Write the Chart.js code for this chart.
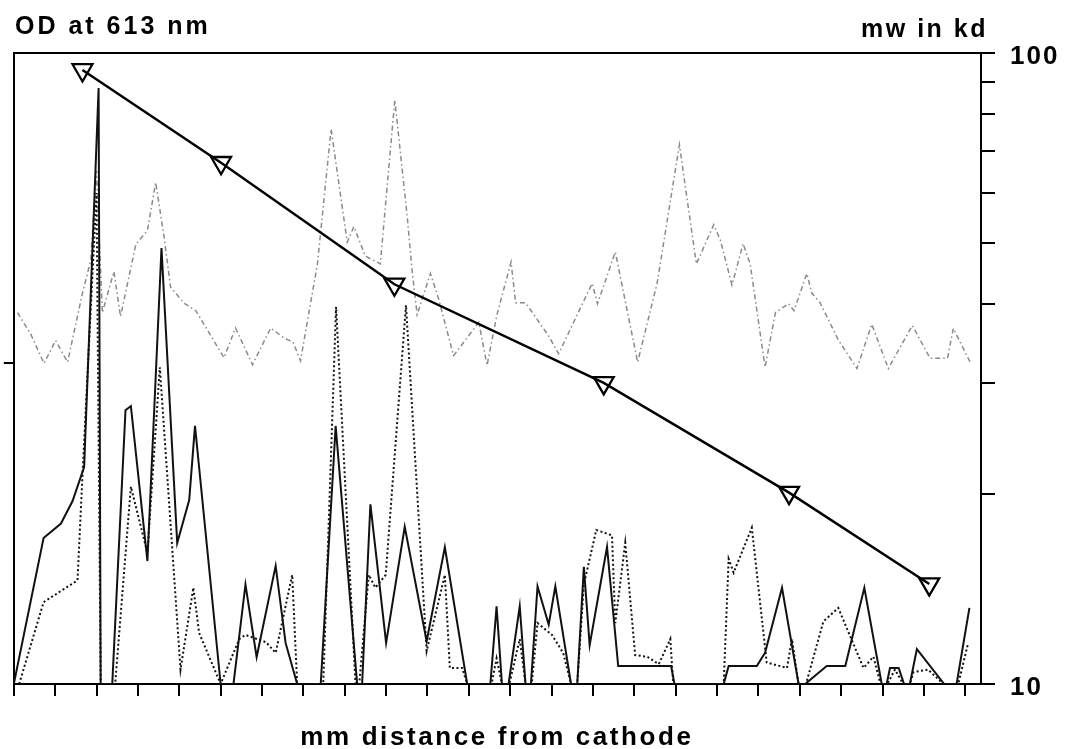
<!DOCTYPE html>
<html>
<head>
<meta charset="utf-8">
<script src="https://cdn.jsdelivr.net/npm/chart.js@4.4.1/dist/chart.umd.min.js"></script>
<style>
body { margin: 0; background: #fff; }
#wrap { width: 1066px; height: 749px; position: relative; }
</style>
</head>
<body>
<div id="wrap"><canvas id="odChart"></canvas></div>
<script>
// x is in tick steps along the gel (one tick mark = 1)
var xTicks = [0,1,2,3,4,5,6,7,8,9,10,11,12,13,14,15,16,17,18,19,20,21,22,23]
var mwTicks = [10,20,30,40,50,60,70,80,90,100]

// molecular weight standards (kd)
var mwX = [1.66, 5.01, 9.20, 14.26, 18.74, 22.13]
var mwKd = [94, 67, 43, 30, 20.1, 14.4]

// solid trace, OD at 613 nm
var solidX = [0,0.72,1.14,1.42,1.70,2.05,2.10,2.38,2.70,2.83,3.23,3.57,3.95,4.24,4.38,5.0,5.31,5.60,5.87,6.33,6.57,6.85,7.42,7.78,8.30,8.42,8.62,9.0,9.45,9.98,10.42,10.96,11.52,11.67,11.80,11.96,12.23,12.37,12.50,12.66,12.93,13.09,13.47,13.62,13.78,13.92,14.34,14.61,15.89,15.97,17.16,17.28,17.96,18.16,18.57,18.97,19.13,19.65,20.10,20.56,20.98,21.10,21.18,21.39,21.52,21.66,21.83,22.49,22.79,23.10]
var solidOD = [0,0.455,0.50,0.57,0.676,1.857,0,0,0.853,0.866,0.383,1.358,0.439,0.573,0.804,0,0,0.31,0.084,0.368,0.128,0,0,0.804,0,0,0.56,0.128,0.49,0.133,0.426,0,0,0.242,0,0,0.242,0,0,0.304,0.185,0.304,0,0,0.365,0.121,0.427,0.056,0.056,0,0,0.056,0.056,0.097,0.30,0,0,0.056,0.056,0.30,0,0,0.05,0.05,0,0,0.109,0,0,0.237]

// dotted trace
var dotX = [0.13,0.72,1.54,1.66,2.0,2.10,2.45,2.83,3.23,3.53,4.03,4.34,4.48,5.0,5.45,5.60,6.10,6.33,6.73,6.85,7.48,7.79,8.26,8.35,8.58,8.74,8.99,9.48,9.98,10.42,10.54,10.84,10.96,11.55,11.67,11.80,11.98,12.23,12.37,12.52,12.66,13.01,13.28,13.47,13.62,13.78,14.08,14.46,14.54,14.78,15.02,15.31,15.59,15.87,15.94,17.16,17.28,17.40,17.84,18.20,18.69,18.81,18.97,19.15,19.57,19.93,20.54,20.78,20.95,21.12,21.30,21.50,21.66,21.75,22.10,22.47,22.83,23.07]
var dotOD = [0,0.255,0.323,0.65,1.53,0,0,0.615,0.408,0.987,0.045,0.30,0.159,0,0.14,0.153,0.13,0.097,0.34,0,0,1.175,0,0,0.34,0.30,0.34,1.18,0.103,0.34,0.05,0.05,0,0,0.08,0,0,0.14,0,0,0.19,0.153,0.097,0,0,0.31,0.48,0.463,0.19,0.44,0.09,0.085,0.062,0.14,0,0,0.39,0.347,0.487,0.067,0.05,0.14,0,0,0.195,0.237,0.05,0.085,0,0,0.045,0,0,0.037,0.045,0,0,0.128]

// grey dash-dot trace
var greyX = [0.09,0.41,0.73,1.01,1.30,1.66,1.86,2.0,2.14,2.42,2.58,2.95,3.23,3.43,3.63,3.79,4.11,4.40,5.08,5.36,5.77,6.21,6.53,6.75,6.93,7.34,7.67,8.06,8.22,8.50,8.86,9.21,9.51,9.63,9.75,10.07,10.27,10.63,11.24,11.44,11.68,12.02,12.13,12.37,12.93,13.17,13.98,14.11,14.54,15.08,15.55,16.09,16.27,16.50,16.92,17.08,17.36,17.63,17.80,18.16,18.41,18.73,18.86,19.17,19.29,19.49,19.93,20.38,20.74,21.14,21.72,22.15,22.57,22.71,23.12]
var greyOD = [1.157,1.09,0.999,1.07,1.003,1.218,1.32,1.6,1.157,1.285,1.145,1.37,1.413,1.563,1.395,1.237,1.187,1.163,1.017,1.109,0.995,1.109,1.078,1.065,1.007,1.309,1.729,1.377,1.425,1.333,1.309,1.82,1.456,1.285,1.151,1.279,1.20,1.023,1.127,0.993,1.151,1.315,1.188,1.188,1.084,1.029,1.248,1.185,1.346,1.003,1.248,1.68,1.516,1.309,1.431,1.383,1.243,1.372,1.309,0.987,1.157,1.185,1.163,1.279,1.218,1.188,1.072,0.983,1.121,0.983,1.117,1.015,1.015,1.108,1.002]

function pts(xs, ys) {
    return xs.map(function(x, i) { return {x: x, y: ys[i]} })
}

var FONT = '"Liberation Sans", Arial, Helvetica, sans-serif'

var paperText = {
    id: 'paperText',
    beforeDraw: function(chart) {
        chart.ctx.letterSpacing = '2px'
    },
    afterDraw: function(chart) {
        var c = chart.ctx
        c.save()
        c.fillStyle = '#000'
        c.textBaseline = 'alphabetic'
        c.font = 'bold 25px ' + FONT
        c.letterSpacing = '3px'
        c.textAlign = 'left'
        c.fillText('OD at 613 nm', 15, 34)
        c.letterSpacing = '2.5px'
        c.textAlign = 'right'
        c.fillText('mw in kd', 988, 37)
        c.font = 'bold 26px ' + FONT
        c.letterSpacing = '2.6px'
        c.textAlign = 'center'
        c.fillText('mm distance from cathode', 497, 745)
        c.restore()
        c.letterSpacing = '0px'
    }
}

var axisGrid = function(len) {
    return { drawOnChartArea: false, drawTicks: true, tickLength: len, color: '#000', lineWidth: 2 }
}
var axisBorder = { display: true, color: '#000', width: 2 }

var ctx = document.getElementById('odChart').getContext('2d')
new Chart(ctx, {
    type: 'line',
    data: {
        datasets: [
            { label: 'mw standards', data: pts(mwX, mwKd), yAxisID: 'y2',
              borderColor: '#000', borderWidth: 2.5, tension: 0,
              pointStyle: 'triangle', pointRotation: 180, pointRadius: 11.5,
              pointBorderWidth: 2.3, pointBorderColor: '#000',
              pointBackgroundColor: 'rgba(255,255,255,0)' },
            { label: 'solid', data: pts(solidX, solidOD), yAxisID: 'y',
              borderColor: '#111', borderWidth: 2, pointRadius: 0, tension: 0 },
            { label: 'dotted', data: pts(dotX, dotOD), yAxisID: 'y',
              borderColor: '#111', borderWidth: 2, borderDash: [2, 2.5], pointRadius: 0, tension: 0 },
            { label: 'grey', data: pts(greyX, greyOD), yAxisID: 'y',
              borderColor: '#8a8a8a', borderWidth: 1.5, borderDash: [5, 3, 1.5, 3], pointRadius: 0, tension: 0 }
        ]
    },
    options: {
        responsive: true,
        maintainAspectRatio: false,
        animation: false,
        layout: { padding: { top: 53, left: 0, right: 0, bottom: 0 } },
        plugins: { legend: { display: false }, tooltip: { enabled: false } },
        scales: {
            x: {
                type: 'linear', position: 'bottom', min: 0, max: 23.38,
                ticks: { display: false },
                afterBuildTicks: function(s) { s.ticks = xTicks.map(function(v) { return {value: v} }) },
                grid: axisGrid(12),
                border: axisBorder,
                afterFit: function(s) { s.height = 65 }
            },
            xTop: {
                type: 'linear', position: 'top', min: 0, max: 23.38,
                ticks: { display: false },
                grid: { display: false, drawTicks: false },
                border: axisBorder,
                afterFit: function(s) { s.height = 0 }
            },
            y: {
                type: 'linear', position: 'left', min: 0, max: 1.966,
                ticks: { display: false },
                afterBuildTicks: function(s) { s.ticks = [{value: 1}] },
                grid: axisGrid(10),
                border: axisBorder,
                afterFit: function(s) { s.width = 13 }
            },
            y2: {
                type: 'logarithmic', position: 'right', min: 10, max: 100,
                afterBuildTicks: function(s) { s.ticks = mwTicks.map(function(v) { return {value: v} }) },
                ticks: {
                    autoSkip: false, padding: 15, labelOffset: 4, color: '#000',
                    font: { family: FONT, size: 26, weight: 'bold' },
                    callback: function(v) { return (v === 10 || v === 100) ? String(v) : '' }
                },
                grid: axisGrid(14),
                border: axisBorder,
                afterFit: function(s) { s.width = 85 }
            }
        }
    },
    plugins: [paperText]
})
</script>
</body>
</html>
